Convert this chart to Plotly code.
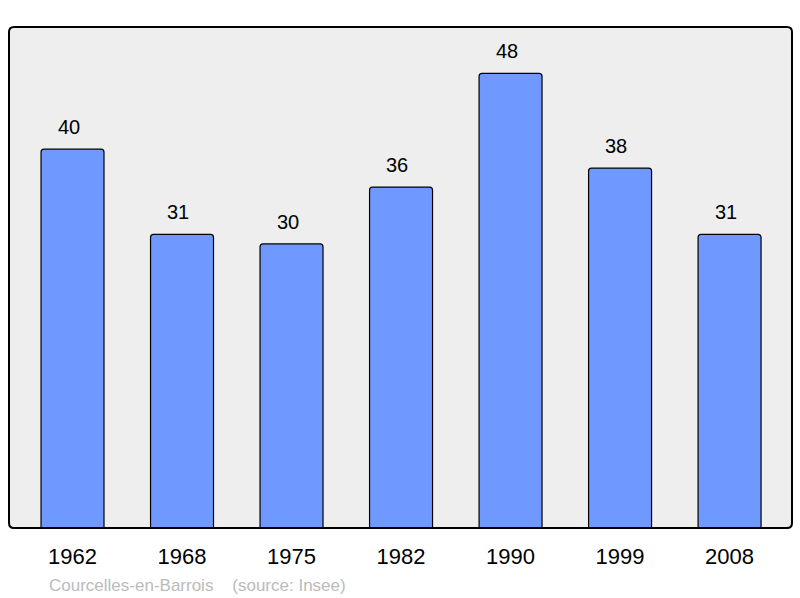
import plotly.graph_objects as go

years = ["1962", "1968", "1975", "1982", "1990", "1999", "2008"]
population = [40, 31, 30, 36, 48, 38, 31]
source_text = "Courcelles-en-Barrois    (source: Insee)"

L, R, T, B = 9, 8, 27, 70
W, H = 800, 598
pw, ph = W - L - R, H - T - B
rx, ry = 5 / pw, 5 / ph

def rounded_path(rx, ry):
    return (f"M {rx},0 L {1-rx},0 Q 1,0 1,{ry} L 1,{1-ry} Q 1,1 {1-rx},1 "
            f"L {rx},1 Q 0,1 0,{1-ry} L 0,{ry} Q 0,0 {rx},0 Z")

fig = go.Figure()
fig.add_trace(go.Bar(
    x=list(range(len(years))), y=population,
    width=0.575,
    marker=dict(color="#7099ff", line=dict(color="#000000", width=1.2), cornerradius=3),
    hoverinfo="skip",
))

for i, v in enumerate(population):
    fig.add_annotation(x=i, y=v, text=str(v), showarrow=False,
                       yanchor="bottom", yshift=9, xshift=-4,
                       font=dict(family="Liberation Sans, Arial", size=20, color="#000"))

fig.add_annotation(xref="paper", yref="paper", x=(47 - L) / pw, y=-(585 - 528) / ph,
                   xanchor="left", yanchor="middle", text=source_text, showarrow=False,
                   font=dict(family="Liberation Sans, Arial", size=17, color="#bbbbbb"))

fig.add_shape(type="path", xref="paper", yref="paper", path=rounded_path(rx, ry),
              fillcolor="#eeeeee", line=dict(width=0), layer="below")
fig.add_shape(type="path", xref="paper", yref="paper", path=rounded_path(rx, ry),
              fillcolor="rgba(0,0,0,0)", line=dict(color="#000000", width=2), layer="above")

fig.update_layout(
    width=W, height=H,
    margin=dict(l=L, r=R, t=T, b=B),
    paper_bgcolor="#ffffff", plot_bgcolor="rgba(0,0,0,0)",
    showlegend=False,
    xaxis=dict(range=[-0.58, 6.57], showgrid=False, zeroline=False,
               showline=False, ticks="", ticklabelstandoff=13,
               tickmode="array", tickvals=list(range(len(years))), ticktext=years,
               tickfont=dict(family="Liberation Sans, Arial", size=22, color="#000")),
    yaxis=dict(range=[0, 52.9], showgrid=False, zeroline=False, showline=False,
               showticklabels=False, ticks=""),
)

fig.write_html("out.html", config={"displayModeBar": False},
               post_script="document.body.style.margin='0px';document.body.style.padding='0px';")
